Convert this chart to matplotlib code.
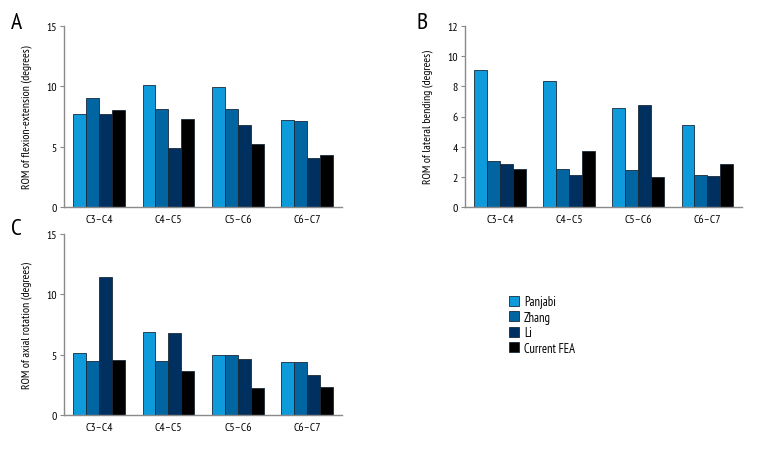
import matplotlib
matplotlib.use("Agg")
import matplotlib.pyplot as plt
import numpy as np
from matplotlib.patches import Patch

categories = ["C3\u2013C4", "C4\u2013C5", "C5\u2013C6", "C6\u2013C7"]
series_names = ["Panjabi", "Zhang", "Li", "Current FEA"]
colors = ["#0e9bdb", "#0065a0", "#00305f", "#000000"]

flex_panjabi = [7.73, 10.12, 9.93, 7.18]
flex_zhang = [9.04, 8.12, 8.12, 7.13]
flex_li = [7.73, 4.88, 6.79, 4.09]
flex_fea = [8.01, 7.26, 5.18, 4.34]

lat_panjabi = [9.09, 8.36, 6.54, 5.43]
lat_zhang = [3.02, 2.51, 2.44, 2.15]
lat_li = [2.88, 2.13, 6.77, 2.04]
lat_fea = [2.55, 3.68, 2.02, 2.86]

axial_panjabi = [5.12, 6.84, 5.01, 4.40]
axial_zhang = [4.46, 4.46, 4.95, 4.40]
axial_li = [11.40, 6.78, 4.62, 3.32]
axial_fea = [4.57, 3.68, 2.27, 2.32]

plt.rcParams['font.family'] = ['PT Sans Narrow', 'DejaVu Sans']

fig = plt.figure(figsize=(7.68, 4.56), dpi=100)

W, H = 768, 456
def rect(l, r, t, b):
    return [l / W, 1 - b / H, (r - l) / W, (b - t) / H]

panels = [
    ("A", rect(64, 342, 27, 208), [flex_panjabi, flex_zhang, flex_li, flex_fea], 15, [0, 5, 10, 15],
     "ROM of flexion-extension (degrees)", (11, 24)),
    ("B", rect(465, 742, 27, 208), [lat_panjabi, lat_zhang, lat_li, lat_fea], 12, [0, 2, 4, 6, 8, 10, 12],
     "ROM of lateral bending (degrees)", (416, 24)),
    ("C", rect(64, 342, 235, 416), [axial_panjabi, axial_zhang, axial_li, axial_fea], 15, [0, 5, 10, 15],
     "ROM of axial rotation (degrees)", (11, 230)),
]

x = np.arange(len(categories))
bw = 0.187
spine_col = "#8a8a8a"
for letter, r, data, ymax, yticks, ylabel, lpos in panels:
    ax = fig.add_axes(r)
    for i, (vals, c) in enumerate(zip(data, colors)):
        ax.bar(x + (i - 1.5) * bw, vals, width=bw, color=c, edgecolor="#1a2a3a", linewidth=0.6)
    ax.set_xlim(-0.505, 3.5)
    ax.set_ylim(0, ymax)
    ax.set_yticks(yticks)
    ax.set_xticks(x)
    ax.set_xticklabels(categories, fontsize=8.5)
    ax.tick_params(axis='x', length=0, pad=5)
    ax.tick_params(axis='y', labelsize=8.5, length=3, width=0.8, color=spine_col, pad=2)
    for s in ["top", "right"]:
        ax.spines[s].set_visible(False)
    for s in ["left", "bottom"]:
        ax.spines[s].set_color(spine_col)
        ax.spines[s].set_linewidth(1.0)
    ax.set_ylabel(ylabel, fontsize=8.5)
    ax.yaxis.set_label_coords(-0.115, 0.5)
    fig.text(lpos[0] / W, 1 - lpos[1] / H, letter, fontsize=17, ha="left", va="center")

handles = [Patch(facecolor=c, edgecolor="#1a2a3a", linewidth=0.6) for c in colors]
fig.legend(handles, series_names, loc="upper left", bbox_to_anchor=(509 / W, 1 - 296 / H),
           frameon=False, fontsize=9, handlelength=0.8, handleheight=0.9,
           handletextpad=0.4, labelspacing=0.2, borderaxespad=0, borderpad=0)

fig.savefig("out.png", dpi=100)
